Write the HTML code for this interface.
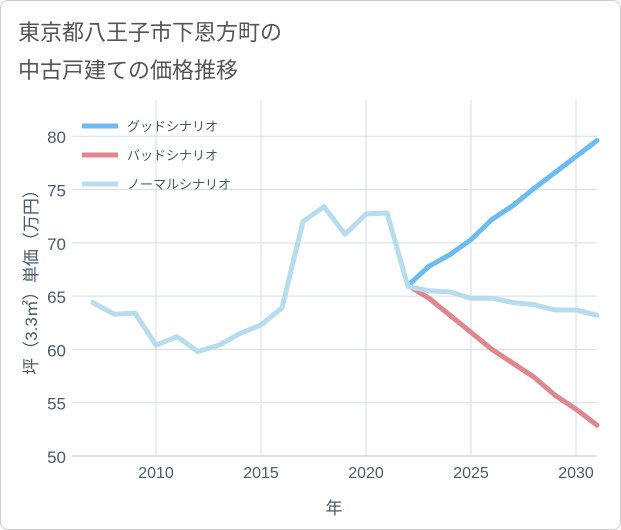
<!DOCTYPE html>
<html><head><meta charset="utf-8"><style>
body{margin:0;background:#fff;font-family:"Liberation Sans","Noto Sans CJK JP",sans-serif}
#wrap{position:relative;width:619px;height:528px;border:1px solid #ccc;border-radius:8px;background:#fff}
</style></head><body>
<div id="wrap">
<svg id="chart" width="621" height="530" style="position:absolute;left:-1px;top:-1px">
<text x="18" y="40" font-size="22" fill="#555" font-family="Liberation Sans, Noto Sans CJK JP, sans-serif">東京都八王子市下恩方町の</text>
<text x="18" y="78" font-size="22" fill="#555" font-family="Liberation Sans, Noto Sans CJK JP, sans-serif">中古戸建ての価格推移</text>
<g id="grid"></g><g id="series"></g><g id="axes"></g><g id="legend"></g>
</svg></div>
<script>
const years=[2007,2008,2009,2010,2011,2012,2013,2014,2015,2016,2017,2018,2019,2020,2021,2022,2023,2024,2025,2026,2027,2028,2029,2030,2031];
const normalVals=[64.4,63.3,63.4,60.4,61.2,59.8,60.4,61.5,62.3,63.9,72.0,73.4,70.8,72.7,72.8,65.9,65.5,65.4,64.8,64.8,64.4,64.2,63.7,63.7,63.2];
const futureYears=[2022,2023,2024,2025,2026,2027,2028,2029,2030,2031];
const goodVals=[66.0,67.8,68.9,70.3,72.2,73.5,75.1,76.6,78.1,79.6];
const badVals=[66.0,64.8,63.2,61.6,60.0,58.7,57.4,55.7,54.4,52.9];
const yTicks=[50,55,60,65,70,75,80];
const xTicks=[2010,2015,2020,2025,2030];
const seriesNames=["グッドシナリオ","バッドシナリオ","ノーマルシナリオ"];
const ns="http://www.w3.org/2000/svg";
const L=72,R=597,T=100,B=456;
const x=v=>L+(v-2006)/(2031-2006)*(R-L);
const y=v=>B-(v-50)/(83.4-50)*(B-T);
function mk(tag,attrs,parent){const e=document.createElementNS(ns,tag);for(const k in attrs)e.setAttribute(k,attrs[k]);document.getElementById(parent).appendChild(e);return e;}
yTicks.forEach(t=>{
 const l=mk('line',{x1:L,x2:R,y1:y(t),y2:y(t),stroke:'#d5dde6','stroke-width':1},'grid');
 
 
 const tx=mk('text',{x:L-6,y:y(t)+7,'text-anchor':'end','font-size':17,fill:'#4a5a6a'},'axes');tx.textContent=t;
 
 
});
xTicks.forEach(t=>{
 const l=mk('line',{x1:x(t),x2:x(t),y1:T,y2:B,stroke:'#d5dde6','stroke-width':1},'grid');
 
 
 const tx=mk('text',{x:x(t),y:B+22,'text-anchor':'middle','font-size':16,fill:'#4a5a6a'},'axes');tx.textContent=t;
 
 
});
const bl=mk('line',{x1:L,x2:R,y1:B,y2:B,stroke:'#bcc6d0'},'axes');


const xt=mk('text',{x:334,y:514,'text-anchor':'middle','font-size':17,fill:'#4a5a6a'},'axes');xt.textContent='年';


const yt=mk('text',{x:0,y:0,transform:'translate(37,278) rotate(-90)','text-anchor':'middle','font-size':17,fill:'#4a5a6a'},'axes');yt.textContent='坪（3.3㎡）単価（万円）';


function line(xs,vs,color,name){
 const p=mk('polyline',{points:xs.map((d,i)=>x(d)+','+y(vs[i])).join(' '),fill:'none',stroke:color,'stroke-width':5,'stroke-linejoin':'round','stroke-linecap':'round'},'series');
 
 
}
line(futureYears,badVals,'#e0868f','bad-scenario-line');
line(futureYears,goodVals,'#6dbcf0','good-scenario-line');
line(years,normalVals,'#b7dcee','normal-scenario-line');
const colors=['#6dbcf0','#e0868f','#b7dcee'];
seriesNames.forEach((n,i)=>{
 const yy=126+i*29;
 const l=mk('line',{x1:82,x2:118,y1:yy,y2:yy,stroke:colors[i],'stroke-width':5},'legend');
 
 
 const t=mk('text',{x:127,y:yy+5,'font-size':13,fill:'#4a5a6a'},'legend');t.textContent=n;
 
 
});
</script>
</body></html>
